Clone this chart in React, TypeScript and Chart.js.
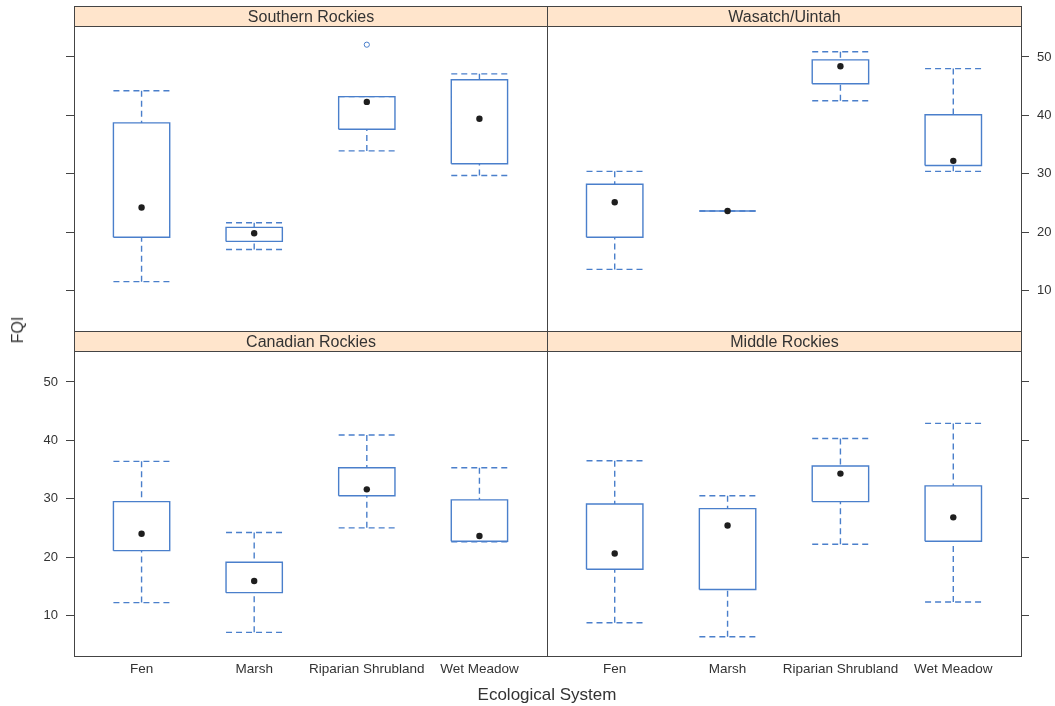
import React, { useEffect, useRef } from 'react';
import { Chart, registerables } from 'chart.js';

Chart.register(...registerables);

// ---------- data ----------
const CATEGORIES = ['Fen', 'Marsh', 'Riparian Shrubland', 'Wet Meadow'];
const PANEL_TITLES = ['Southern Rockies', 'Wasatch/Uintah', 'Canadian Rockies', 'Middle Rockies'];
const Y_TICKS = [10, 20, 30, 40, 50];

// each row: [lower whisker, Q1, median, Q3, upper whisker]
const SOUTHERN_ROCKIES = [
  [11.5, 19.1, 24.2, 38.7, 44.2],
  [17.0, 18.4, 19.8, 20.8, 21.6],
  [33.9, 37.6, 42.3, 43.2, 43.2],
  [29.7, 31.7, 39.4, 46.1, 47.1],
];
const SOUTHERN_OUTLIER_CATS = ['Riparian Shrubland'];
const SOUTHERN_OUTLIER_VALUES = [52.1];

const WASATCH_UINTAH = [
  [13.6, 19.1, 25.1, 28.2, 30.4],
  [23.6, 23.6, 23.6, 23.6, 23.6],
  [42.5, 45.4, 48.4, 49.5, 50.9],
  [30.4, 31.4, 32.2, 40.1, 48.0],
];

const CANADIAN_ROCKIES = [
  [12.2, 21.1, 24.0, 29.5, 36.4],
  [7.1, 13.9, 15.9, 19.1, 24.2],
  [25.0, 30.5, 31.6, 35.3, 40.9],
  [22.6, 22.7, 23.6, 29.8, 35.3],
];

const MIDDLE_ROCKIES = [
  [8.75, 17.9, 20.6, 29.1, 36.5],
  [6.35, 14.45, 25.4, 28.3, 30.5],
  [22.2, 29.5, 34.3, 35.6, 40.3],
  [12.3, 22.7, 26.8, 32.2, 42.9],
];

// ---------- styles / layout ----------
const W = 1055;
const H = 706;
const Y_MIN = 3.05;
const Y_MAX = 55.3;
const BOX_HALF = 0.25;
const BOX_COLOR = '#4a7fcb';
const MEDIAN_COLOR = '#1e1e1e';
const FRAME_COLOR = '#444444';
const TEXT_COLOR = '#333333';
const STRIP_FILL = '#ffe5cc';
const STRIP_H = 20;
const FONT = '"Liberation Sans", Arial, Helvetica, sans-serif';

type PanelCfg = {
  title: string;
  stats: number[][];
  outCats: string[];
  outVals: number[];
  area: { l: number; t: number; r: number; b: number };
  yPos: 'left' | 'right';
  yLabels: boolean;
  xLabels: boolean;
};

const PANELS: PanelCfg[] = [
  { title: PANEL_TITLES[0], stats: SOUTHERN_ROCKIES, outCats: SOUTHERN_OUTLIER_CATS, outVals: SOUTHERN_OUTLIER_VALUES,
    area: { l: 74, t: 26, r: 547, b: 331 }, yPos: 'left', yLabels: false, xLabels: false },
  { title: PANEL_TITLES[1], stats: WASATCH_UINTAH, outCats: [], outVals: [],
    area: { l: 547, t: 26, r: 1021, b: 331 }, yPos: 'right', yLabels: true, xLabels: false },
  { title: PANEL_TITLES[2], stats: CANADIAN_ROCKIES, outCats: [], outVals: [],
    area: { l: 74, t: 351, r: 547, b: 656 }, yPos: 'left', yLabels: true, xLabels: true },
  { title: PANEL_TITLES[3], stats: MIDDLE_ROCKIES, outCats: [], outVals: [],
    area: { l: 547, t: 351, r: 1021, b: 656 }, yPos: 'right', yLabels: false, xLabels: true },
];

function buildBoxData(stats: number[][], outCats: string[], outVals: number[]) {
  const rects: any[] = [];
  const whiskers: any[] = [];
  const medians: any[] = [];
  stats.forEach((s, i) => {
    const x = i + 1;
    const [lo, q1, med, q3, hi] = s;
    const l = x - BOX_HALF;
    const r = x + BOX_HALF;
    rects.push({ x: l, y: q1 }, { x: r, y: q1 }, { x: r, y: q3 }, { x: l, y: q3 }, { x: l, y: q1 }, { x: l, y: null });
    whiskers.push(
      { x, y: hi }, { x, y: q3 }, { x, y: null },
      { x, y: lo }, { x, y: q1 }, { x, y: null },
      { x: l, y: hi }, { x: r, y: hi }, { x: r, y: null },
      { x: l, y: lo }, { x: r, y: lo }, { x: r, y: null },
    );
    medians.push({ x, y: med });
  });
  const outliers = outCats.map((c, i) => ({ x: CATEGORIES.indexOf(c) + 1, y: outVals[i] }));
  return { rects, whiskers, medians, outliers };
}

const framePlugin = {
  id: 'panelFrame',
  afterDraw(chart: any, _args: any, opts: any) {
    const { ctx, chartArea } = chart;
    const l = Math.round(chartArea.left) + 0.5;
    const r = Math.round(chartArea.right) + 0.5;
    const t = Math.round(chartArea.top) + 0.5;
    const b = Math.round(chartArea.bottom) + 0.5;
    ctx.save();
    // strip
    ctx.fillStyle = STRIP_FILL;
    ctx.fillRect(l, t - STRIP_H, r - l, STRIP_H);
    ctx.strokeStyle = FRAME_COLOR;
    ctx.lineWidth = 1;
    ctx.strokeRect(l, t - STRIP_H, r - l, STRIP_H);
    ctx.fillStyle = TEXT_COLOR;
    ctx.font = `16px ${FONT}`;
    ctx.textAlign = 'center';
    ctx.textBaseline = 'middle';
    ctx.fillText(opts.title, (l + r) / 2, t - STRIP_H / 2 + 1);
    // panel frame
    ctx.strokeRect(l, t, r - l, b - t);
    ctx.restore();
  },
};

function Panel({ cfg }: { cfg: PanelCfg }) {
  const ref = useRef<HTMLCanvasElement | null>(null);
  useEffect(() => {
    if (!ref.current) return;
    const { rects, whiskers, medians, outliers } = buildBoxData(cfg.stats, cfg.outCats, cfg.outVals);
    const a = cfg.area;
    const yAxisWidth = cfg.yPos === 'left' ? a.l : W - a.r;
    const xAxisHeight = cfg.xLabels ? H - a.b : 0;
    const chart = new Chart(ref.current, {
      type: 'line',
      data: {
        datasets: [
          { type: 'scatter', data: medians, pointRadius: 3.2, pointHoverRadius: 3.2, backgroundColor: MEDIAN_COLOR, borderWidth: 0, pointStyle: 'circle' } as any,
          { type: 'scatter', data: outliers, pointRadius: 2.6, pointHoverRadius: 2.6, backgroundColor: 'rgba(0,0,0,0)', borderColor: BOX_COLOR, borderWidth: 1 } as any,
          { type: 'line', data: rects, borderColor: BOX_COLOR, borderWidth: 1.4, pointRadius: 0, spanGaps: false, fill: false, tension: 0 } as any,
          { type: 'line', data: whiskers, borderColor: BOX_COLOR, borderWidth: 1.4, borderDash: [6, 4], pointRadius: 0, spanGaps: false, fill: false, tension: 0 } as any,
        ],
      },
      options: {
        animation: false,
        responsive: false,
        events: [],
        layout: {
          padding: {
            left: cfg.yPos === 'left' ? 0 : a.l,
            right: cfg.yPos === 'right' ? 0 : W - a.r,
            top: a.t,
            bottom: cfg.xLabels ? 0 : H - a.b,
          },
        },
        plugins: {
          legend: { display: false },
          tooltip: { enabled: false },
          panelFrame: { title: cfg.title },
        } as any,
        scales: {
          x: {
            type: 'linear',
            min: 0.4,
            max: 4.6,
            display: cfg.xLabels,
            afterBuildTicks: (s: any) => { s.ticks = CATEGORIES.map((_, i) => ({ value: i + 1 })); },
            afterFit: (s: any) => { s.height = xAxisHeight; },
            ticks: {
              callback: (v: any) => CATEGORIES[Math.round(Number(v)) - 1] ?? '',
              font: { family: FONT, size: 13.5 },
              color: TEXT_COLOR,
              padding: -3,
              maxRotation: 0,
              autoSkip: false,
            },
            grid: { display: false },
            border: { display: false },
          },
          y: {
            type: 'linear',
            position: cfg.yPos,
            min: Y_MIN,
            max: Y_MAX,
            afterBuildTicks: (s: any) => { s.ticks = Y_TICKS.map((v) => ({ value: v })); },
            afterFit: (s: any) => { s.width = yAxisWidth; },
            ticks: {
              callback: (v: any) => (cfg.yLabels ? String(v) : ''),
              font: { family: FONT, size: 13 },
              color: TEXT_COLOR,
              padding: 8,
              autoSkip: false,
            },
            grid: { drawOnChartArea: false, drawTicks: true, tickLength: 8, color: FRAME_COLOR, tickColor: FRAME_COLOR, lineWidth: 1 },
            border: { display: false },
          },
        } as any,
      },
      plugins: [framePlugin],
    } as any);
    return () => chart.destroy();
  }, [cfg]);
  return (
    <canvas
      ref={ref}
      width={W}
      height={H}
      style={{ position: 'absolute', left: 0, top: 0, width: W, height: H }}
    />
  );
}

export default function App() {
  return (
    <div style={{ position: 'absolute', left: 0, top: 0, width: W, height: H, background: '#ffffff', overflow: 'hidden', fontFamily: FONT }}>
      {PANELS.map((p) => (
        <Panel key={p.title} cfg={p} />
      ))}
      <div
        style={{
          position: 'absolute',
          left: 18,
          top: 330,
          transform: 'translate(-50%, -50%) rotate(-90deg)',
          fontSize: 16,
          color: TEXT_COLOR,
          whiteSpace: 'nowrap',
        }}
      >
        FQI
      </div>
      <div
        style={{
          position: 'absolute',
          left: 547,
          top: 695,
          transform: 'translate(-50%, -50%)',
          fontSize: 17,
          color: TEXT_COLOR,
          whiteSpace: 'nowrap',
        }}
      >
        Ecological System
      </div>
    </div>
  );
}
